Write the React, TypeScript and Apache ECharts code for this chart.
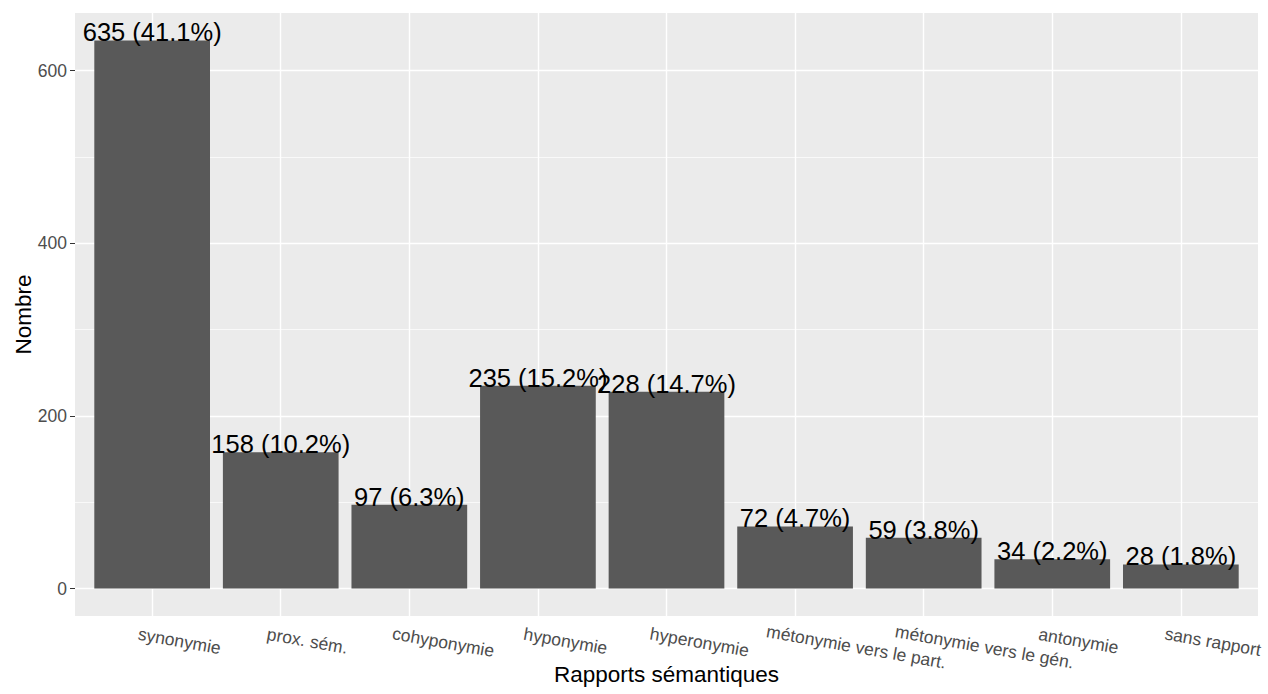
import React, { useEffect, useRef } from 'react';
import * as echarts from 'echarts';

const categories = [
  'synonymie',
  'prox. sém.',
  'cohyponymie',
  'hyponymie',
  'hyperonymie',
  'métonymie vers le part.',
  'métonymie vers le gén.',
  'antonymie',
  'sans rapport',
];
const counts = [635, 158, 97, 235, 228, 72, 59, 34, 28];
const percents = ['41.1', '10.2', '6.3', '15.2', '14.7', '4.7', '3.8', '2.2', '1.8'];
const yMajorTicks = [0, 200, 400, 600];
const yMinorTicks = [100, 300, 500];

const FONT = '"Liberation Sans", Arial, Helvetica, sans-serif';
const TICK_SIZE = 17.5;

function measure(text: string, size: number): number {
  const ctx = document.createElement('canvas').getContext('2d');
  if (!ctx) return text.length * size * 0.5;
  ctx.font = `${size}px "Liberation Sans", Arial, sans-serif`;
  return ctx.measureText(text).width;
}

export default function App() {
  const ref = useRef<HTMLDivElement>(null);

  useEffect(() => {
    if (!ref.current) return;
    const chart = echarts.init(ref.current, null, { renderer: 'svg' });

    const positions = categories.map((_, i) => i + 1);
    const maxV = Math.max(...counts);
    const expand = maxV * 0.05;

    const rich: Record<string, any> = {
      t: { fontSize: TICK_SIZE, color: '#4D4D4D', fontFamily: FONT },
    };
    categories.forEach((c, i) => {
      rich['s' + i] = { width: 0.7 * measure(c, TICK_SIZE), fontSize: TICK_SIZE, fontFamily: FONT };
    });

    const gridLines = [
      ...positions.map((p) => ({ xAxis: p, lineStyle: { color: '#FFFFFF', width: 1.4, type: 'solid' } })),
      ...yMajorTicks.map((v) => ({ yAxis: v, lineStyle: { color: '#FFFFFF', width: 1.4, type: 'solid' } })),
      ...yMinorTicks.map((v) => ({ yAxis: v, lineStyle: { color: '#FFFFFF', width: 0.7, type: 'solid' } })),
    ];

    chart.setOption({
      animation: false,
      grid: {
        left: 75,
        right: 10,
        top: 13,
        bottom: 78,
        outerBoundsMode: 'none',
        containLabel: false,
        show: true,
        backgroundColor: '#EBEBEB',
        borderWidth: 0,
      },
      xAxis: {
        type: 'value',
        min: 0.4,
        max: categories.length + 0.6,
        name: 'Rapports sémantiques',
        nameLocation: 'middle',
        nameGap: 47,
        nameMoveOverlap: false,
        nameTextStyle: { fontSize: 22.5, color: '#000000', fontFamily: FONT },
        axisLine: { show: false },
        splitLine: { show: false },
        axisTick: {
          show: true,
          customValues: positions,
          length: 5,
          lineStyle: { color: '#333333', width: 1 },
        },
        axisLabel: {
          customValues: positions,
          rotate: -10,
          align: 'center',
          verticalAlign: 'top',
          margin: 11,
          rich,
          formatter: (v: number) => {
            const i = Math.round(v) - 1;
            return `{s${i}| }{t|${categories[i]}}`;
          },
        },
      },
      yAxis: {
        type: 'value',
        min: -expand,
        max: maxV + expand,
        name: 'Nombre',
        nameLocation: 'middle',
        nameGap: 40,
        nameMoveOverlap: false,
        nameTextStyle: { fontSize: 22.5, color: '#000000', fontFamily: FONT },
        axisLine: { show: false },
        splitLine: { show: false },
        axisTick: {
          show: true,
          customValues: yMajorTicks,
          length: 5,
          lineStyle: { color: '#333333', width: 1 },
        },
        axisLabel: {
          customValues: yMajorTicks,
          margin: 8,
          fontSize: TICK_SIZE,
          color: '#4D4D4D',
          fontFamily: FONT,
        },
      },
      series: [
        {
          type: 'line',
          data: [],
          z: 1,
          silent: true,
          markLine: {
            silent: true,
            z: 1,
            symbol: ['none', 'none'],
            label: { show: false },
            animation: false,
            data: gridLines,
          },
        },
        {
          type: 'bar',
          z: 3,
          barWidth: 115.7,
          itemStyle: { color: '#595959' },
          data: counts.map((c, i) => [positions[i], c]),
          label: {
            show: true,
            position: 'top',
            distance: -5,
            fontSize: 25.5,
            color: '#000000',
            fontFamily: FONT,
            formatter: (p: any) => `${counts[p.dataIndex]} (${percents[p.dataIndex]}%)`,
          },
        },
      ],
    });

    return () => chart.dispose();
  }, []);

  return (
    <div
      ref={ref}
      style={{ position: 'fixed', left: 0, top: 0, width: 1268, height: 694, background: '#FFFFFF' }}
    />
  );
}
